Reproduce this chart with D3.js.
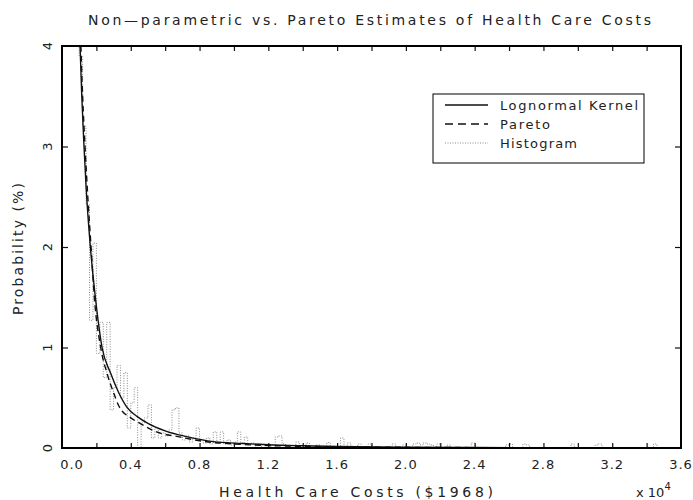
<!DOCTYPE html>
<html><head><meta charset="utf-8">
<script src="https://cdn.jsdelivr.net/npm/d3@7"></script>
<style>
body{margin:0;background:#fff}
svg{display:block}
text{font-family:"DejaVu Sans",sans-serif;fill:#222}
</style>
</head><body>
<svg id="chart" width="693" height="500"></svg>
<script>
// ---- data (x in units of $10^4, y in %) ----
const kernelX = [0.090,0.105,0.115,0.128,0.140,0.165,0.194,0.233,0.283,0.330,0.376,0.440,0.500,0.600,0.725,0.880,1.050,1.200,1.400,1.600,2.000,2.400,2.800,3.200,3.600];
const kernelY = [4.60,4.00,3.50,3.00,2.60,2.00,1.50,1.00,0.743,0.550,0.410,0.310,0.245,0.170,0.113,0.063,0.045,0.032,0.022,0.015,0.008,0.005,0.003,0.002,0.0015];

const paretoX = [0.100,0.110,0.120,0.134,0.150,0.169,0.188,0.225,0.262,0.300,0.333,0.400,0.454,0.550,0.675,0.850,1.000,1.200,1.600,2.000,2.400,2.800,3.200,3.600];
const paretoY = [4.80,4.00,3.50,3.00,2.50,2.00,1.50,1.00,0.743,0.550,0.410,0.300,0.245,0.160,0.113,0.060,0.040,0.025,0.012,0.007,0.004,0.003,0.002,0.0015];

const histX = [0.08,0.10,0.12,0.14,0.16,0.18,0.20,0.22,0.24,0.26,0.28,0.30,0.32,0.34,0.36,0.38,0.40,0.42,0.44,0.46,0.48,0.50,0.52,0.54,0.56,0.58,0.60,0.62,0.64,0.66,0.68,0.70,0.72,0.74,0.76,0.78,0.80,0.82,0.84,0.86,0.88,0.90,0.92,0.94,0.96,0.98,1.00,1.02,1.04,1.06,1.08,1.10,1.12,1.14,1.16,1.18,1.20,1.22,1.24,1.26,1.28,1.30,1.32,1.36,1.38,1.42,1.44,1.48,1.50,1.54,1.56,1.62,1.64,1.66,1.68,1.72,1.74,1.78,1.80,1.92,1.94,1.98,2.00,2.04,2.06,2.08,2.10,2.12,2.14,2.16,2.18,2.20,2.24,2.26,2.38,2.40,2.58,2.60,2.62,2.68,2.70,2.72,2.96,2.98,3.10,3.12,3.14,3.44,3.46,3.60];
const histY = [4.50,3.90,3.20,2.42,1.27,2.04,0.94,1.25,0.70,1.25,0.38,0.60,0.82,0.50,0.75,0.20,0.45,0.60,0.00,0.25,0.30,0.43,0.10,0.20,0.10,0.15,0.12,0.18,0.38,0.40,0.15,0.08,0.12,0.06,0.10,0.20,0.08,0.05,0.10,0.04,0.16,0.06,0.16,0.04,0.08,0.03,0.06,0.16,0.05,0.11,0.03,0.05,0.02,0.04,0.00,0.03,0.02,0.00,0.11,0.12,0.04,0.02,0.00,0.06,0.00,0.05,0.00,0.03,0.00,0.055,0.00,0.10,0.00,0.05,0.00,0.04,0.00,0.04,0.00,0.04,0.00,0.03,0.00,0.04,0.05,0.03,0.05,0.04,0.03,0.00,0.04,0.00,0.03,0.00,0.05,0.00,0.03,0.04,0.00,0.04,0.03,0.00,0.04,0.00,0.03,0.04,0.00,0.04,0.00,0.00];

const xTicks = [0,0.4,0.8,1.2,1.6,2.0,2.4,2.8,3.2,3.6];
const xTickLabels = ["0.0","0.4","0.8","1.2","1.6","2.0","2.4","2.8","3.2","3.6"];
const xMinorTicks = [0.2,0.4,0.6,0.8,1.0,1.2,1.4,1.6,1.8,2.0,2.2,2.4,2.6,2.8,3.0,3.2,3.4];
const yTicks = [0,1,2,3,4];
const yTickLabels = ["0","1","2","3","4"];
const legendLabels = ["Lognormal Kernel","Pareto","Histogram"];
const titleText = "Non\u2014parametric vs. Pareto Estimates of Health Care Costs";
const xLabelText = "Health Care Costs ($1968)";
const yLabelText = "Probability (%)";

// ---- layout ----
const L = 62, R = 681, T = 46, B = 448;
const svg = d3.select("#chart");
const x = d3.scaleLinear().domain([0, 3.6]).range([L, R]);
const y = d3.scaleLinear().domain([0, 4]).range([B, T]);

svg.append("defs").append("clipPath").attr("id","clip")
  .append("rect").attr("x",L).attr("y",T).attr("width",R-L).attr("height",B-T);

const g = svg.append("g").attr("clip-path","url(#clip)");

// histogram
const hist = histX.map((d,i)=>[d,histY[i]]);
g.append("path").datum(hist)
  .attr("d", d3.line().x(d=>x(d[0])).y(d=>y(d[1])).curve(d3.curveStepAfter))
  .attr("fill","none").attr("stroke","#8a8a8a").attr("stroke-width",1)
  .attr("stroke-dasharray","1,1.5");

// pareto
g.append("path").datum(paretoX.map((d,i)=>[d,paretoY[i]]))
  .attr("d", d3.line().x(d=>x(d[0])).y(d=>y(d[1])).curve(d3.curveMonotoneX))
  .attr("fill","none").attr("stroke","#111").attr("stroke-width",1.4)
  .attr("stroke-dasharray","6,4");

// kernel
g.append("path").datum(kernelX.map((d,i)=>[d,kernelY[i]]))
  .attr("d", d3.line().x(d=>x(d[0])).y(d=>y(d[1])).curve(d3.curveMonotoneX))
  .attr("fill","none").attr("stroke","#111").attr("stroke-width",1.4);

// axes via d3 axis generators (inward ticks)
const xb = d3.axisBottom(x).tickValues(xMinorTicks).tickSize(-5).tickFormat("");
const xt = d3.axisTop(x).tickValues(xMinorTicks).tickSize(-5).tickFormat("");
const yl = d3.axisLeft(y).tickValues([1,2,3]).tickSize(-6).tickFormat("");
const yr = d3.axisRight(y).tickValues([1,2,3]).tickSize(-6).tickFormat("");
[[xb,`translate(0,${B})`],[xt,`translate(0,${T})`],[yl,`translate(${L},0)`],[yr,`translate(${R},0)`]].forEach(([ax,tr])=>{
  const a = svg.append("g").attr("transform",tr).call(ax);
  a.select(".domain").remove();
  a.selectAll("line").attr("stroke","#111").attr("stroke-width",1.2);
});

// frame
svg.append("rect").attr("x",L).attr("y",T).attr("width",R-L).attr("height",B-T)
  .attr("fill","none").attr("stroke","#000").attr("stroke-width",2);

// x tick labels
svg.append("g").selectAll("text").data(xTicks).join("text")
  .attr("x",(d,i)=>x(d)+(i===0?10:0)).attr("y",469)
  .attr("text-anchor","middle").attr("font-size",13).attr("letter-spacing",1)
  .text((d,i)=>xTickLabels[i]);

// y tick labels (rotated)
svg.append("g").selectAll("text").data(yTicks).join("text")
  .attr("transform",d=>`translate(52,${y(d)}) rotate(-90)`)
  .attr("text-anchor","middle").attr("font-size",13)
  .text((d,i)=>yTickLabels[i]);

// title
svg.append("text").attr("x",369.5).attr("y",25).attr("text-anchor","middle")
  .attr("font-size",14).attr("textLength",563).attr("lengthAdjust","spacing")
  .text(titleText);

// x label
svg.append("text").attr("x",356).attr("y",497).attr("text-anchor","middle")
  .attr("font-size",14).attr("textLength",274).attr("lengthAdjust","spacing")
  .text(xLabelText);

// x 10^4
const ex = svg.append("text").attr("x",636).attr("y",497).attr("font-size",13);
ex.append("tspan").text("x 10");
ex.append("tspan").attr("dy",-7).attr("font-size",10).text("4");

// y label
svg.append("text").attr("transform","translate(23,249) rotate(-90)")
  .attr("text-anchor","middle").attr("font-size",14)
  .attr("textLength",132).attr("lengthAdjust","spacing")
  .text(yLabelText);

// legend
const lg = svg.append("g");
lg.append("rect").attr("x",433).attr("y",94).attr("width",211).attr("height",69)
  .attr("fill","#fff").attr("stroke","#000").attr("stroke-width",1);
const ly = [105,124,143];
const lstyles = [
  {stroke:"#111",dash:null,w:1.4},
  {stroke:"#111",dash:"8,5",w:1.4},
  {stroke:"#8a8a8a",dash:"1,1.5",w:1}
];
const lw = [138,50,77];
legendLabels.forEach((lab,i)=>{
  lg.append("line").attr("x1",445).attr("x2",488).attr("y1",ly[i]).attr("y2",ly[i])
    .attr("stroke",lstyles[i].stroke).attr("stroke-width",lstyles[i].w)
    .attr("stroke-dasharray",lstyles[i].dash);
  lg.append("text").attr("x",500).attr("y",ly[i]+5).attr("font-size",13)
    .attr("textLength",lw[i]).attr("lengthAdjust","spacing").text(lab);
});
</script>
</body></html>
